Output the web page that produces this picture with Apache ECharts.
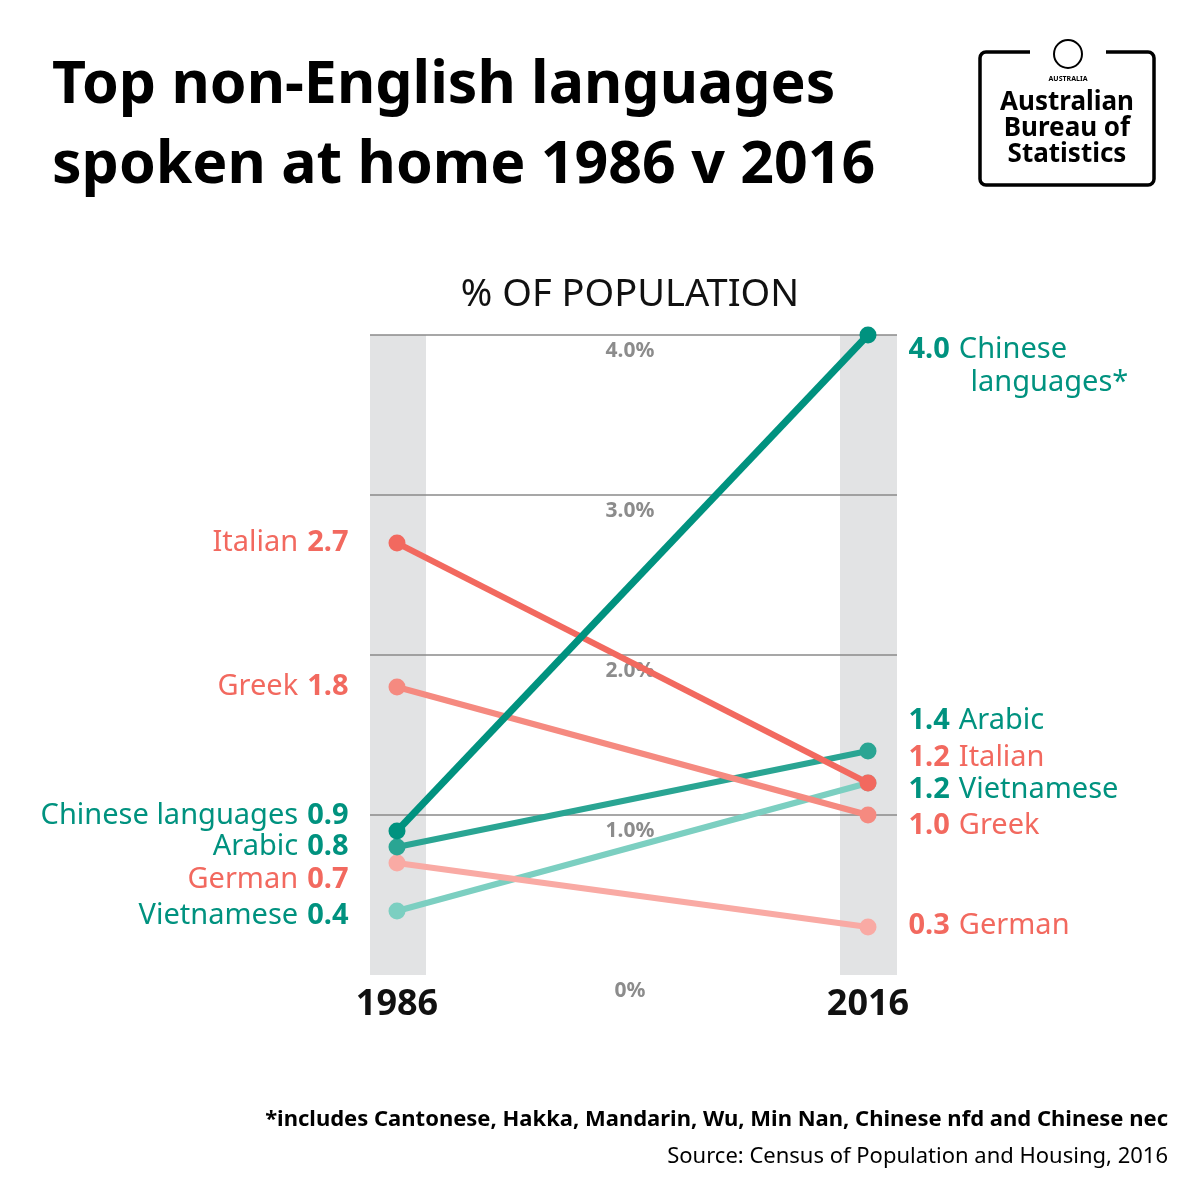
<!DOCTYPE html>
<html><head><meta charset="utf-8">
<script src="https://cdn.jsdelivr.net/npm/echarts@6/dist/echarts.min.js"></script>
<style>html,body{margin:0;padding:0;background:#fff}#c{width:1200px;height:1200px}</style>
</head><body><div id="c"></div>
<script>
const years = ['1986', '2016'];
const languages = ['Chinese languages', 'Italian', 'Greek', 'Arabic', 'German', 'Vietnamese'];
const v1986 = [0.9, 2.7, 1.8, 0.8, 0.7, 0.4];
const v2016 = [4.0, 1.2, 1.0, 1.4, 0.3, 1.2];
const yTicks = [0, 1, 2, 3, 4];

const lineColors = ['#00927f', '#f2695f', '#f58a80', '#2aa593', '#f9aaa4', '#7ccfc1'];
const textColors = ['#00927f', '#f2695f', '#f2695f', '#00927f', '#f2695f', '#00927f'];
const leftOff = [-15, 0, 0, 0, 17, 5];
const rightOff = [31, -25, 11, -30, -1, 7];
const rightNames = ['Chinese', 'Italian', 'Greek', 'Arabic', 'German', 'Vietnamese'];
const F = '"Noto Sans", sans-serif';

const series = languages.map((name, i) => {
  const rich = {
    n: {fontFamily: F, fontSize: 29, color: textColors[i], fontWeight: 'normal'},
    v: {fontFamily: F, fontSize: 29, color: textColors[i], fontWeight: 'bold'},
    g: {width: 9},
    s: {width: 62}
  };
  const rightFmt = i === 0
    ? '{v|' + v2016[i].toFixed(1) + '}{g|}{n|Chinese}\n{s|}{n|languages*}'
    : '{v|' + v2016[i].toFixed(1) + '}{g|}{n|' + rightNames[i] + '}';
  return {
    type: 'line', name,
    data: [
      {value: [0, v1986[i]], label: {show: true, position: 'left', distance: 40, offset: [0, leftOff[i]],
        formatter: '{n|' + name + '}{g|}{v|' + v1986[i].toFixed(1) + '}', rich}},
      {value: [1, v2016[i]], label: {show: true, position: 'right', distance: 32, offset: [0, rightOff[i]],
        formatter: rightFmt, rich, lineHeight: 33}}
    ],
    symbol: 'circle', symbolSize: 17,
    itemStyle: {color: lineColors[i]},
    lineStyle: {color: lineColors[i], width: i === 0 ? 7 : 6},
    z: 10 - i,
    silent: true,
    markArea: i === 0 ? {silent: true, itemStyle: {color: '#e2e3e4'},
      data: [[{xAxis: -0.0573}, {xAxis: 0.0616}], [{xAxis: 0.9406}, {xAxis: 1.0616}]]} : undefined
  };
});

const chart = echarts.init(document.getElementById('c'));
chart.setOption({
  animation: false,
  grid: {left: 370, right: 303, top: 335, bottom: 225},
  xAxis: {type: 'value', min: -0.0573, max: 1.0616,
    axisLine: {show: false}, axisTick: {show: false}, splitLine: {show: false},
    axisLabel: {customValues: [0, 1], formatter: v => years[Math.round(v)], margin: 12,
      fontFamily: F, fontSize: 36, fontWeight: 'bold', color: '#111'}},
  yAxis: {type: 'value', min: 0, max: 4, interval: 1,
    axisLine: {show: false}, axisTick: {show: false},
    splitLine: {show: true, lineStyle: {color: ['rgba(0,0,0,0)', '#8a8a8a', '#8a8a8a', '#8a8a8a', '#8a8a8a'], width: 1.5}},
    axisLabel: {inside: true, margin: 260, align: 'center', verticalAlign: 'top', padding: [6, 0, 0, 0],
      formatter: v => v === 0 ? '0%' : v.toFixed(1) + '%',
      fontFamily: F, fontSize: 21, fontWeight: 'bold', color: '#8c8c8c'}, z: 5},
  series,
  graphic: [
    {type: 'text', left: 52, top: 46, style: {text: 'Top non-English languages\nspoken at home 1986 v 2016',
      font: 'bold 59px "Noto Sans"', fill: '#000', lineHeight: 80}},
    {type: 'text', x: 630, y: 295, style: {text: '% OF POPULATION', font: '38px "Noto Sans"', fill: '#111',
      align: 'center', verticalAlign: 'middle'}},
    {type: 'rect', shape: {x: 980, y: 52, width: 174, height: 133, r: 6}, style: {fill: '#fff', stroke: '#000', lineWidth: 3.5}},
    {type: 'rect', shape: {x: 1030, y: 40, width: 76, height: 24}, style: {fill: '#fff'}},
    {type: 'circle', shape: {cx: 1068, cy: 54, r: 14}, style: {fill: '#fff', stroke: '#000', lineWidth: 2}},
    {type: 'text', x: 1068, y: 75, style: {text: 'AUSTRALIA', font: 'bold 7px "Noto Sans"', fill: '#000', align: 'center'}},
    {type: 'text', x: 1067, y: 129, style: {text: 'Australian\nBureau of\nStatistics', font: 'bold 26px "Noto Sans"',
      fill: '#000', align: 'center', verticalAlign: 'middle', lineHeight: 26}},
    {type: 'text', x: 1168, y: 1120, style: {text: '*includes Cantonese, Hakka, Mandarin, Wu, Min Nan, Chinese nfd and Chinese nec',
      font: 'bold 22px "Noto Sans"', fill: '#000', align: 'right', verticalAlign: 'middle'}},
    {type: 'text', x: 1168, y: 1157, style: {text: 'Source: Census of Population and Housing, 2016',
      font: '22px "Noto Sans"', fill: '#000', align: 'right', verticalAlign: 'middle'}}
  ]
});
</script></body></html>
